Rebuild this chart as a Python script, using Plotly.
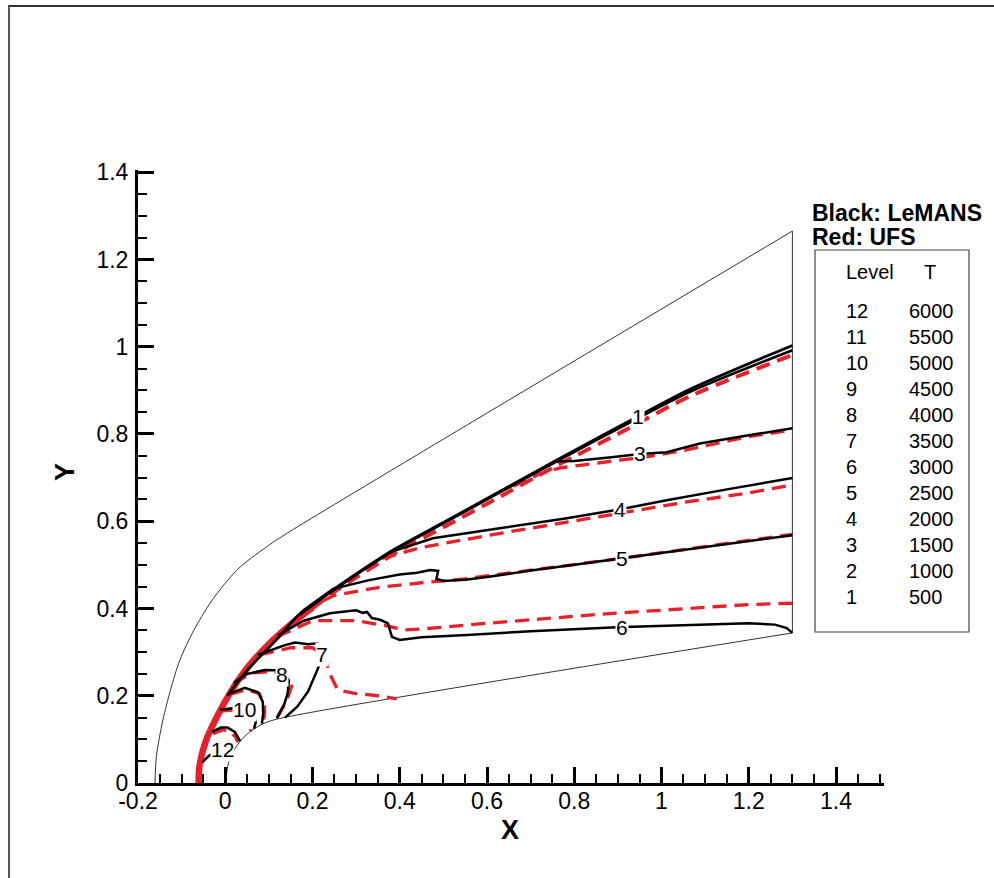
import plotly.graph_objects as go

# ---------------- geometry ----------------
outer_x = [-0.161, -0.158, -0.143, -0.125, -0.104, -0.072, -0.035, 0.000, 0.034, 0.100, 0.141, 1.300]
outer_y = [0.000, 0.060, 0.144, 0.215, 0.282, 0.350, 0.412, 0.458, 0.495, 0.545, 0.572, 1.265]

body_x = [0.000, 0.0086, 0.020, 0.038, 0.060, 0.089, 0.125, 1.300]
body_y = [0.000, 0.050, 0.075, 0.100, 0.120, 0.137, 0.148, 0.344]

outlet_x = [1.300, 1.300]
outlet_y = [0.344, 1.265]

# ---------------- shock (all levels coincide near the nose) ----------------
red_shock_x = [-0.061, -0.059, -0.045, -0.020, 0.010, 0.040, 0.070, 0.110, 0.160, 0.200]
red_shock_y = [0.000, 0.040, 0.095, 0.150, 0.205, 0.250, 0.287, 0.328, 0.372, 0.402]

# LeMANS (black, solid) contours
black_1_x = [0.005, 0.040, 0.075, 0.115, 0.171, 0.250, 0.385, 0.500, 0.600, 0.759, 0.923, 1.064, 1.300]
black_1_y = [0.200, 0.246, 0.285, 0.326, 0.388, 0.445, 0.534, 0.597, 0.652, 0.740, 0.828, 0.902, 1.003]
black_2_x = [0.171, 0.250, 0.385, 0.500, 0.600, 0.759, 0.923, 1.064, 1.300]
black_2_y = [0.386, 0.443, 0.532, 0.595, 0.650, 0.737, 0.824, 0.896, 0.992]
black_3_x = [0.755, 0.800, 0.880, 0.950, 1.012, 1.088, 1.200, 1.300]
black_3_y = [0.737, 0.738, 0.746, 0.754, 0.758, 0.778, 0.797, 0.813]
black_4_x = [0.375, 0.476, 0.629, 0.783, 0.909, 1.012, 1.150, 1.300]
black_4_y = [0.528, 0.561, 0.584, 0.607, 0.628, 0.648, 0.673, 0.699]
black_5_x = [0.190, 0.247, 0.330, 0.400, 0.440, 0.470, 0.488, 0.484, 0.500, 0.550, 0.600, 0.700, 0.800, 0.909, 1.000, 1.150, 1.300]
black_5_y = [0.402, 0.445, 0.465, 0.478, 0.482, 0.488, 0.486, 0.468, 0.463, 0.466, 0.472, 0.487, 0.500, 0.515, 0.527, 0.548, 0.568]
black_6_x = [0.120, 0.180, 0.240, 0.300, 0.315, 0.325, 0.336, 0.355, 0.373, 0.382, 0.400, 0.450, 0.554, 0.700, 0.897, 1.050, 1.200, 1.260, 1.287, 1.300]
black_6_y = [0.338, 0.372, 0.389, 0.396, 0.390, 0.392, 0.378, 0.374, 0.366, 0.335, 0.328, 0.334, 0.339, 0.348, 0.357, 0.362, 0.366, 0.363, 0.355, 0.344]
black_7_x = [0.075, 0.137, 0.160, 0.190, 0.212, 0.228, 0.222, 0.205, 0.190, 0.165, 0.137]
black_7_y = [0.294, 0.316, 0.322, 0.318, 0.320, 0.304, 0.285, 0.245, 0.210, 0.175, 0.150]
black_8_x = [0.020, 0.050, 0.090, 0.130, 0.146, 0.143, 0.135, 0.118]
black_8_y = [0.230, 0.250, 0.259, 0.258, 0.235, 0.205, 0.180, 0.148]
black_9_x = [0.010, 0.045, 0.075, 0.086, 0.087, 0.084]
black_9_y = [0.205, 0.218, 0.208, 0.186, 0.160, 0.136]
black_10_x = [-0.012, 0.020, 0.045, 0.065, 0.070, 0.066]
black_10_y = [0.168, 0.172, 0.170, 0.158, 0.140, 0.124]
black_11_x = [-0.030, -0.010, 0.005, 0.022, 0.034]
black_11_y = [0.117, 0.127, 0.127, 0.117, 0.096]
black_12_x = [-0.052, -0.040, -0.020, 0.000, 0.008, 0.009]
black_12_y = [0.048, 0.060, 0.074, 0.074, 0.062, 0.050]

# UFS (red, dashed) contours
red_1_x = [0.160, 0.250, 0.385, 0.500, 0.600, 0.759, 0.923, 1.064, 1.300]
red_1_y = [0.368, 0.438, 0.524, 0.586, 0.640, 0.727, 0.812, 0.886, 0.981]
red_3_x = [0.660, 0.720, 0.767, 0.813, 0.858, 0.904, 0.950, 1.050, 1.200, 1.300]
red_3_y = [0.680, 0.708, 0.722, 0.728, 0.735, 0.740, 0.745, 0.762, 0.794, 0.809]
red_4_x = [0.360, 0.450, 0.600, 0.750, 0.900, 1.050, 1.200, 1.300]
red_4_y = [0.515, 0.540, 0.567, 0.592, 0.617, 0.643, 0.665, 0.683]
red_5_x = [0.180, 0.250, 0.350, 0.450, 0.550, 0.700, 0.909, 1.100, 1.300]
red_5_y = [0.396, 0.430, 0.448, 0.459, 0.468, 0.487, 0.515, 0.542, 0.570]
red_6_x = [0.120, 0.200, 0.300, 0.370, 0.410, 0.450, 0.600, 0.750, 0.888, 1.000, 1.117, 1.200, 1.300]
red_6_y = [0.336, 0.372, 0.372, 0.360, 0.351, 0.353, 0.366, 0.378, 0.389, 0.396, 0.403, 0.409, 0.412]
red_7_x = [0.080, 0.150, 0.200, 0.228, 0.236, 0.242, 0.258, 0.300, 0.350, 0.393]
red_7_y = [0.294, 0.310, 0.310, 0.290, 0.262, 0.245, 0.213, 0.205, 0.200, 0.193]
red_8_x = [0.020, 0.060, 0.110, 0.145, 0.152, 0.145, 0.133, 0.118]
red_8_y = [0.228, 0.252, 0.256, 0.240, 0.222, 0.200, 0.175, 0.148]
red_9_x = [0.010, 0.050, 0.078, 0.090, 0.090, 0.086]
red_9_y = [0.203, 0.214, 0.205, 0.180, 0.155, 0.137]
red_10_x = [-0.010, 0.030, 0.055, 0.060, 0.058]
red_10_y = [0.165, 0.168, 0.155, 0.138, 0.118]
red_11_x = [-0.028, -0.005, 0.015, 0.030]
red_11_y = [0.113, 0.122, 0.116, 0.094]

# contour labels
label_text = ["1", "3", "4", "5", "6", "7", "8", "10", "12"]
label_x = [0.945, 0.950, 0.905, 0.909, 0.910, 0.222, 0.130, 0.045, -0.007]
label_y = [0.840, 0.756, 0.627, 0.515, 0.357, 0.295, 0.249, 0.168, 0.077]

# legend table
legend_levels = ["12", "11", "10", "9", "8", "7", "6", "5", "4", "3", "2", "1"]
legend_temps = ["6000", "5500", "5000", "4500", "4000", "3500", "3000", "2500", "2000", "1500", "1000", "500"]

# axis ticks
x_ticks = [-0.2, 0.0, 0.2, 0.4, 0.6, 0.8, 1.0, 1.2, 1.4]
x_ticklabels = ["-0.2", "0", "0.2", "0.4", "0.6", "0.8", "1", "1.2", "1.4"]
y_ticks = [0.0, 0.2, 0.4, 0.6, 0.8, 1.0, 1.2, 1.4]
y_ticklabels = ["0", "0.2", "0.4", "0.6", "0.8", "1", "1.2", "1.4"]

# ---------------- figure ----------------
FONT = "Liberation Sans, Arial, Helvetica, sans-serif"
W, H = 994, 878
L, T, PW, PH = 138, 170, 746, 613


def px(xp):
    return (xp - L) / PW


def py(yp):
    return (T + PH - yp) / PH


fig = go.Figure()


def add(x, y, color, width, dash="solid", shape="linear"):
    fig.add_trace(go.Scatter(x=x, y=y, mode="lines", showlegend=False, hoverinfo="skip",
                             line=dict(color=color, width=width, dash=dash, shape=shape,
                                       smoothing=0.8)))


# boundaries
add(outer_x, outer_y, "#333333", 1, shape="spline")
add(body_x, body_y, "#333333", 1, shape="spline")
add(outlet_x, outlet_y, "#333333", 1)

RED = "#e8202a"
DASH = "14px,8px"
# red
add(red_shock_x, red_shock_y, RED, 6.5, shape="spline")
add(red_1_x, red_1_y, RED, 4, DASH, shape="spline")
for xs, ys in [(red_3_x, red_3_y), (red_4_x, red_4_y), (red_5_x, red_5_y), (red_6_x, red_6_y),
               (red_7_x, red_7_y), (red_8_x, red_8_y), (red_9_x, red_9_y), (red_10_x, red_10_y),
               (red_11_x, red_11_y)]:
    add(xs, ys, RED, 3.3, DASH)

# black
add(black_1_x, black_1_y, "black", 2.7, shape="spline")
add(black_2_x, black_2_y, "black", 2.7, shape="spline")
for xs, ys in [(black_3_x, black_3_y), (black_4_x, black_4_y), (black_5_x, black_5_y),
               (black_6_x, black_6_y), (black_7_x, black_7_y), (black_8_x, black_8_y),
               (black_9_x, black_9_y), (black_10_x, black_10_y), (black_11_x, black_11_y),
               (black_12_x, black_12_y)]:
    add(xs, ys, "black", 2.5)

annotations = []
for t, x, y in zip(label_text, label_x, label_y):
    annotations.append(dict(x=x, y=y, xref="x", yref="y", text=t, showarrow=False,
                            xanchor="center", yanchor="middle",
                            font=dict(family=FONT, size=21, color="black"),
                            bgcolor="white", borderpad=0))

# axis titles
annotations.append(dict(x=px(510), y=py(830), xref="paper", yref="paper", text="<b>X</b>",
                        xanchor="center", yanchor="middle",
                        showarrow=False, font=dict(family=FONT, size=27, color="black")))
annotations.append(dict(x=px(65), y=py(472), xref="paper", yref="paper", text="<b>Y</b>",
                        xanchor="center", yanchor="middle",
                        textangle=-90, showarrow=False, font=dict(family=FONT, size=27, color="black")))

# legend
annotations.append(dict(x=px(810), y=py(213), xref="paper", yref="paper", text="<b>Black: LeMANS</b>",
                        xanchor="left", yanchor="middle", showarrow=False,
                        font=dict(family=FONT, size=23, color="black")))
annotations.append(dict(x=px(810), y=py(237), xref="paper", yref="paper", text="<b>Red: UFS</b>",
                        xanchor="left", yanchor="middle", showarrow=False,
                        font=dict(family=FONT, size=23, color="black")))
annotations.append(dict(x=px(844), y=py(272), xref="paper", yref="paper", text="Level",
                        xanchor="left", yanchor="middle", showarrow=False,
                        font=dict(family=FONT, size=20, color="black")))
annotations.append(dict(x=px(930), y=py(272), xref="paper", yref="paper", text="T",
                        xanchor="center", yanchor="middle", showarrow=False,
                        font=dict(family=FONT, size=20, color="black")))
for i, (lv, tv) in enumerate(zip(legend_levels, legend_temps)):
    yy = 311 + 26 * i
    annotations.append(dict(x=px(844), y=py(yy), xref="paper", yref="paper", text=lv,
                            xanchor="left", yanchor="middle", showarrow=False,
                            font=dict(family=FONT, size=20, color="black")))
    annotations.append(dict(x=px(907), y=py(yy), xref="paper", yref="paper", text=tv,
                            xanchor="left", yanchor="middle", showarrow=False,
                            font=dict(family=FONT, size=20, color="black")))

shapes = [
    dict(type="rect", xref="paper", yref="paper", x0=px(815), x1=px(969), y0=py(632), y1=py(250),
         line=dict(color="#444444", width=1.2)),
    dict(type="line", xref="paper", yref="paper", x0=px(8), x1=px(994), y0=py(6), y1=py(6),
         line=dict(color="#333333", width=2)),
    dict(type="line", xref="paper", yref="paper", x0=px(9), x1=px(9), y0=py(6), y1=py(878),
         line=dict(color="#555555", width=2)),
]

axis_common = dict(showgrid=False, zeroline=False, showline=True, linecolor="black", linewidth=3,
                   ticks="inside", ticklen=16, tickwidth=2.5, tickcolor="black",
                   tickfont=dict(family=FONT, size=23, color="black"))

fig.update_layout(
    width=W, height=H,
    margin=dict(l=L, r=W - L - PW, t=T, b=H - T - PH),
    paper_bgcolor="white", plot_bgcolor="white",
    xaxis=dict(range=[-0.2, 1.51], tickmode="array", tickvals=x_ticks, ticktext=x_ticklabels,
               ticklabelstandoff=-5,
               minor=dict(tickmode="linear", tick0=0, dtick=0.05, ticks="inside", ticklen=9,
                          tickwidth=1.5, tickcolor="black"),
               **axis_common),
    yaxis=dict(range=[0, 1.405], tickmode="array", tickvals=y_ticks, ticktext=y_ticklabels,
               ticklabelstandoff=2,
               minor=dict(tickmode="linear", tick0=0, dtick=0.05, ticks="inside", ticklen=9,
                          tickwidth=1.5, tickcolor="black"),
               **axis_common),
    annotations=annotations,
    shapes=shapes,
)

fig.write_html("out.html")
